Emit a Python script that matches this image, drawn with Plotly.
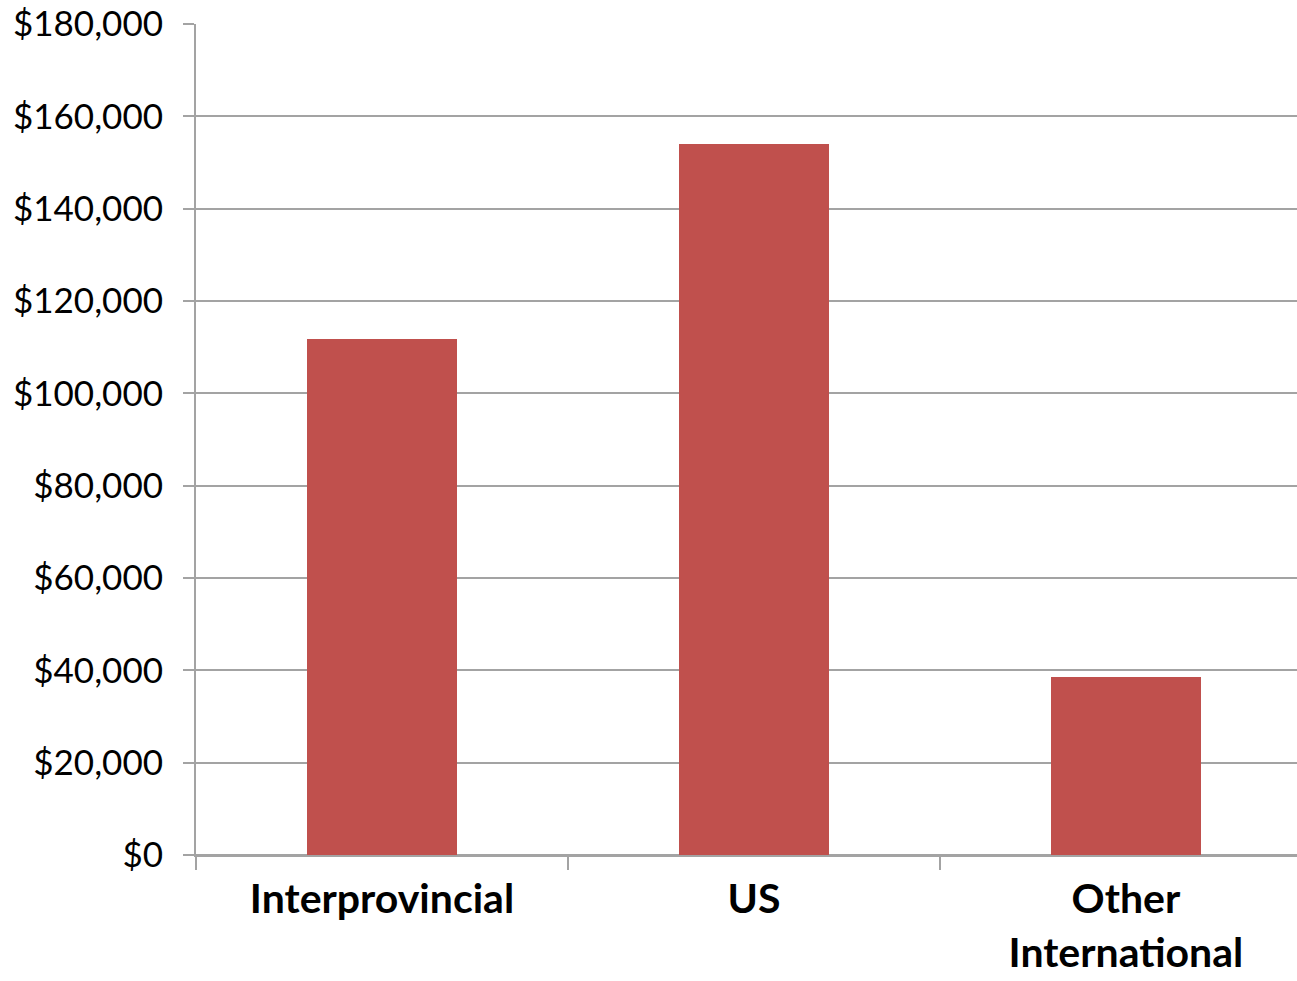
import plotly.graph_objects as go

categories = ["Interprovincial", "US", "Other<br>International"]
values = [111700, 154000, 38450]
y_tickvals = [0, 20000, 40000, 60000, 80000, 100000, 120000, 140000, 160000, 180000]
y_ticktext = ["$0", "$20,000", "$40,000", "$60,000", "$80,000", "$100,000",
              "$120,000", "$140,000", "$160,000", "$180,000"]

GRID = "#A3A3A3"

fig = go.Figure(go.Bar(
    x=categories, y=values,
    marker=dict(color="#C0504D", line=dict(width=0)),
    width=0.403,
))

fig.update_layout(
    width=1297, height=981,
    margin=dict(l=196, r=0, t=24, b=126),
    paper_bgcolor="white", plot_bgcolor="white",
    showlegend=False,
    font=dict(family="Lato", color="black"),
    bargap=0,
)
fig.update_xaxes(
    type="category",
    range=[-0.5, 2.46],
    tickson="boundaries",
    ticks="outside", ticklen=13, tickwidth=2, tickcolor=GRID,
    showline=True, linecolor=GRID, linewidth=2,
    showgrid=False,
    tickfont=dict(size=41, family="Lato", weight="bold", color="black"),
    ticklabelstandoff=7,
    automargin=False,
)
fig.update_yaxes(
    range=[0, 180000],
    tickvals=y_tickvals, ticktext=y_ticktext,
    ticks="outside", ticklen=11, tickwidth=2, tickcolor=GRID,
    showline=True, linecolor=GRID, linewidth=2,
    showgrid=True, gridcolor=GRID, gridwidth=2,
    zeroline=True, zerolinecolor=GRID, zerolinewidth=2,
    tickfont=dict(size=35, family="Lato", color="black"),
    ticklabelstandoff=13,
    automargin=False,
)

fig.write_html("out.html")
